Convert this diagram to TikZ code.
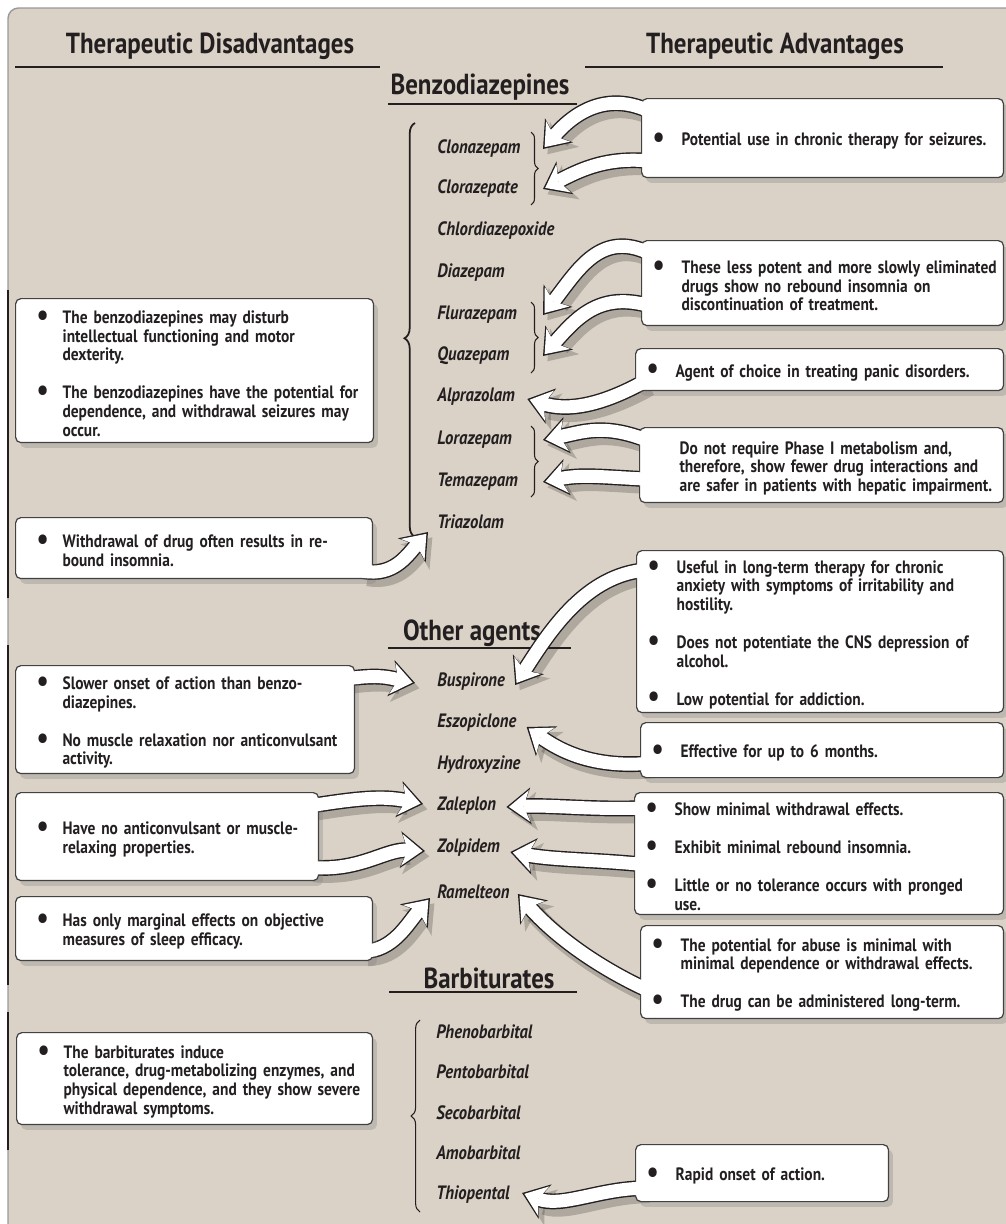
\documentclass[tikz,border=0pt]{standalone}
\usepackage{fontspec}
\setmainfont{PT Sans}[FakeStretch=0.86]
\usepackage{graphicx}
\usepackage{tikz}
\usetikzlibrary{arrows.meta, positioning, decorations.pathreplacing, shadows}
\definecolor{paper}{RGB}{218,210,198}
\definecolor{ink}{RGB}{35,31,32}

\pgfdeclarelayer{sheet}
\pgfdeclarelayer{shade}
\pgfdeclarelayer{under}
\pgfdeclarelayer{over}
\pgfsetlayers{sheet,shade,under,main,over}

% bullet paragraphs inside the boxes
\newcommand{\bul}[1]{\par\hangindent=\bulhang\hangafter=1\noindent
	\makebox[\bulhang][l]{\hspace*{\bulpre}\raisebox{-0.22ex}{\scalebox{1.75}{\textbullet}}}#1\par}
\newcommand{\nobul}[1]{\par\hangindent=\bulhang\hangafter=0\noindent #1\par}
\newcommand{\gap}{\vspace{11pt}}
% fat white arrow: shadow, outline, white body
\newcommand{\fatarrow}[1]{%
	\begin{pgfonlayer}{shade}\path[arrshade] #1;\end{pgfonlayer}%
	\begin{pgfonlayer}{under}\path[arrout] #1;\end{pgfonlayer}%
	\begin{pgfonlayer}{over}\path[arrin] #1;\end{pgfonlayer}}

\tikzset{
	heading/.style={font=\fontsize{16.5}{18}\selectfont\bfseries, text=ink, inner sep=0pt},
	drug/.style={font=\fontsize{11}{13}\selectfont\bfseries\itshape, text=ink, anchor=west, inner sep=0pt},
	box/.style={draw=ink!85, line width=0.7pt, fill=white, rounded corners=3pt, anchor=north west,
		align=left, inner ysep=0pt, font=\fontsize{10.2}{10.6}\selectfont\bfseries, text=ink,
		drop shadow={opacity=0.3, shadow xshift=2.5pt, shadow yshift=-3pt}},
	rbox/.style={box, inner xsep=0.1cm, execute at begin node={\def\bulhang{0.7cm}\def\bulpre{0.12cm}}},
	lbox/.style={box, inner xsep=0.06cm, execute at begin node={\def\bulhang{0.88cm}\def\bulpre{0.36cm}}},
	rule/.style={draw=ink, line width=1.6pt},
	curly/.style={draw=ink, line width=0.6pt, decorate, decoration={brace, amplitude=4pt}},
	arrshade/.style={draw=black, opacity=0.2, line width=11pt, transform canvas={xshift=2.5pt, yshift=-3pt},
		-{Stealth[length=15pt, width=22pt, inset=4pt, line width=0pt]}},
	arrout/.style={draw=ink, line width=9pt, -{Stealth[length=14pt, width=21pt, inset=4pt, line width=0pt]}},
	arrin/.style={draw=white, line width=7.4pt, shorten >=1.4pt, -{Stealth[length=11.8pt, width=18pt, inset=3.4pt, line width=0pt]}}
}

\begin{document}
\begin{tikzpicture}[x=0.02cm, y=-0.02cm]
	\useasboundingbox (0,0) rectangle (1005,1224);
	% Sheet
	\begin{pgfonlayer}{sheet}
		\fill[paper, rounded corners=6pt] (8,8) rectangle (1020,1240);
		\draw[black!40, line width=0.8pt, rounded corners=6pt] (8,1240) -- (8,8) -- (1020,8);
		\draw[ink, line width=1.4pt] (8,290) -- (8,598) (8,645) -- (8,985) (8,1012) -- (8,1150);
	\end{pgfonlayer}

	% Headings
	\node[heading] (hdis) at (210,46) {Therapeutic Disadvantages};
	\node[heading] (hadv) at (775,46) {Therapeutic Advantages};
	\node[heading] (hbenz) at (480,87) {Benzodiazepines};
	\node[heading] (hoth) at (472,633) {Other agents};
	\node[heading] (hbarb) at (489,978) {Barbiturates};
	\draw[rule] (15,67) -- (380,67);
	\draw[rule] (585,67) -- (943,67);
	\draw[rule] (388,104) -- (577,104);
	\draw[rule] (388,648) -- (571,648);
	\draw[rule] (389,992) -- (577,992);

	% Drug names
	\foreach \n/\t/\y in {clon/Clonazepam/149, clor/Clorazepate/189, chlo/Chlordiazepoxide/231,
		diaz/Diazepam/273, flur/Flurazepam/315, quaz/Quazepam/356, alpr/Alprazolam/397,
		lora/Lorazepam/440, tema/Temazepam/482, tria/Triazolam/522,
		busp/Buspirone/682, eszo/Eszopiclone/723, hydr/Hydroxyzine/765,
		zale/Zaleplon/806, zolp/Zolpidem/848, rame/Ramelteon/892}
		\node[drug] (\n) at (437,\y) {\t};
	\foreach \n/\t/\y in {phen/Phenobarbital/1032, pent/Pentobarbital/1072, seco/Secobarbital/1113,
		amob/Amobarbital/1153, thio/Thiopental/1195}
		\node[drug] (\n) at (436,\y) {\t};
	\coordinate (tipb) at (543,0);

	% Braces
	\draw[curly, line width=1pt, decoration={brace, amplitude=6pt, aspect=0.48}] (415,537) -- (415,123);
	\draw[curly] (531,132) -- (531,205);
	\draw[curly] (531,302) -- (531,373);
	\draw[curly] (531,426) -- (531,497);
	\draw[curly, decoration={brace, amplitude=5pt}] (420,1212) -- (420,1020);

	% Advantages
	\node[rbox, text width=7.04cm, minimum height=1.58cm] (a1) at (641,98)
		{\bul{Potential use in chronic therapy for seizures.}};
	\node[rbox, text width=7.04cm, minimum height=1.7cm] (a2) at (641,240)
		{\bul{These less potent and more slowly eliminated\newline drugs show no rebound insomnia on\newline discontinuation of treatment.}};
	\node[rbox, text width=7.16cm, minimum height=0.84cm] (a3) at (635,348)
		{\bul{Agent of choice in treating panic disorders.}};
	\node[rbox, text width=7.08cm, minimum height=1.5cm] (a4) at (639,427)
		{\nobul{Do not require Phase I metabolism and,\newline therefore, show fewer drug interactions and\newline are safer in patients with hepatic impairment.}};
	\node[rbox, text width=7.14cm, minimum height=3.24cm] (a5) at (636,550)
		{\bul{Useful in long-term therapy for chronic\newline anxiety with symptoms of irritability and\newline hostility.}\gap
		\bul{Does not potentiate the CNS depression of\newline alcohol.}\gap
		\bul{Low potential for addiction.}};
	\node[rbox, text width=7.06cm, minimum height=1.1cm] (a6) at (640,722)
		{\bul{Effective for up to 6 months.}};
	\node[rbox, text width=7.18cm, minimum height=2.44cm] (a7) at (634,792)
		{\bul{Show minimal withdrawal effects.}\gap
		\bul{Exhibit minimal rebound insomnia.}\gap
		\bul{Little or no tolerance occurs with pronged\newline use.}};
	\node[rbox, text width=7.06cm, minimum height=1.86cm] (a8) at (640,925)
		{\bul{The potential for abuse is minimal with\newline minimal dependence or withdrawal effects.}\gap
		\bul{The drug can be administered long-term.}};
	\node[rbox, text width=4.86cm, minimum height=1.14cm] (a9) at (635,1144)
		{\bul{Rapid onset of action.}};

	% Disadvantages
	\node[lbox, text width=7.04cm, minimum height=2.88cm] (d1) at (15,298)
		{\bul{The benzodiazepines may disturb\newline intellectual functioning and motor\newline dexterity.}\gap
		\bul{The benzodiazepines have the potential for\newline dependence, and withdrawal seizures may\newline occur.}};
	\node[lbox, text width=7.02cm, minimum height=1.22cm] (d2) at (15,517)
		{\bul{Withdrawal of drug often results in re-\newline bound insomnia.}};
	\node[lbox, text width=6.66cm, minimum height=2.16cm] (d3) at (15,665)
		{\bul{Slower onset of action than benzo-\newline diazepines.}\gap
		\bul{No muscle relaxation nor anticonvulsant\newline activity.}};
	\node[lbox, text width=5.94cm, minimum height=1.76cm] (d4) at (15,792)
		{\bul{Have no anticonvulsant or muscle-\newline relaxing properties.}};
	\node[lbox, text width=7.02cm, minimum height=1.28cm] (d5) at (15,896)
		{\bul{Has only marginal effects on objective\newline measures of sleep efficacy.}};
	\node[lbox, text width=7.0cm, minimum height=1.84cm] (d6) at (16,1032)
		{\bul{The barbiturates induce\newline tolerance, drug-metabolizing enzymes, and\newline physical dependence, and they show severe\newline withdrawal symptoms.}};

	% Arrows to the drugs
	\fatarrow{([shift={(10,14)}]a1.north west) .. controls +(-45,-22) and +(30,-35) .. (clon -| tipb)}
	\fatarrow{([shift={(10,-17)}]a1.south west) .. controls +(-45,-5) and +(35,-18) .. (clor -| tipb)}
	\fatarrow{([shift={(10,14)}]a2.north west) .. controls +(-50,-25) and +(35,-45) .. (flur -| tipb)}
	\fatarrow{([shift={(10,-20)}]a2.south west) .. controls +(-50,-15) and +(35,-40) .. (quaz -| tipb)}
	\fatarrow{([shift={(10,-10)}]a3.south west) .. controls +(-45,25) and +(40,12) .. ([shift={(12,2)}]alpr.east)}
	\fatarrow{([shift={(10,14)}]a4.north west) .. controls +(-45,-18) and +(40,-8) .. (lora -| tipb)}
	\fatarrow{([shift={(10,-24)}]a4.south west) .. controls +(-45,-2) and +(40,-8) .. (tema -| tipb)}
	\fatarrow{([shift={(10,20)}]a5.north west) .. controls +(-60,5) and +(35,-55) .. ([shift={(10,3)}]busp.east)}
	\fatarrow{([shift={(10,-15)}]a6.south west) .. controls +(-55,5) and +(35,25) .. ([shift={(10,4)}]eszo.east)}
	\fatarrow{([shift={(10,16)}]a7.north west) .. controls +(-50,2) and +(45,-2) .. ([shift={(10,1)}]zale.east)}
	\fatarrow{([shift={(10,11)}]a7.west) .. controls +(-50,-5) and +(45,8) .. ([shift={(10,4)}]zolp.east)}
	\fatarrow{([shift={(10,-28)}]a8.south west) .. controls +(-55,-25) and +(35,40) .. ([shift={(8,2)}]rame.east)}
	\fatarrow{([shift={(10,-14)}]a9.south west) .. controls +(-45,0) and +(40,15) .. ([shift={(12,-2)}]thio.east)}
	\fatarrow{([shift={(-10,-8)}]d2.south east) .. controls +(30,5) and +(-22,25) .. ([shift={(-9,10)}]tria.west)}
	\fatarrow{([shift={(-10,14)}]d3.north east) .. controls +(35,-5) and +(-25,-5) .. ([shift={(-22,1)}]busp.west)}
	\fatarrow{([shift={(-10,14)}]d4.north east) .. controls +(50,-8) and +(-40,-8) .. ([shift={(-14,-2)}]zale.west)}
	\fatarrow{([shift={(-10,-14)}]d4.south east) .. controls +(50,5) and +(-40,-2) .. ([shift={(-12,3)}]zolp.west)}
	\fatarrow{([shift={(-10,-10)}]d5.south east) .. controls +(30,0) and +(-22,25) .. ([shift={(-7,6)}]rame.west)}
\end{tikzpicture}
\end{document}
